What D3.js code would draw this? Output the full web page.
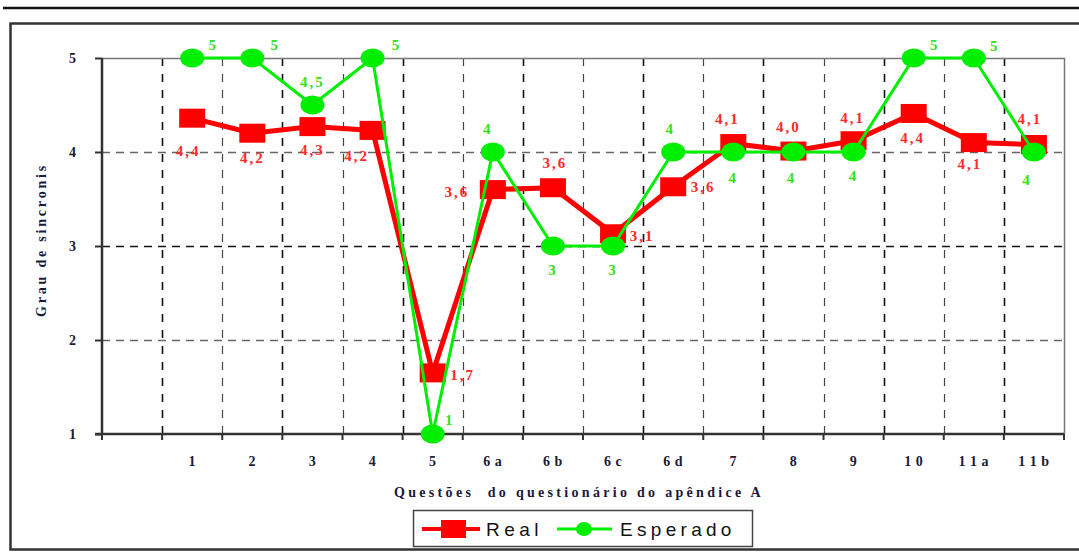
<!DOCTYPE html>
<html><head><meta charset="utf-8">
<script src="https://cdn.jsdelivr.net/npm/d3@7/dist/d3.min.js"></script>
<style>
html,body{margin:0;padding:0;background:#fff;}
svg{display:block;}
</style></head>
<body>
<svg id="chart" width="1079" height="552"></svg>
<script>
// ---- data ----
const categories = ["", "1", "2", "3", "4", "5", "6a", "6b", "6c", "6d", "7", "8", "9", "10", "11a", "11b"];
const tickLabels = ["", "1", "2", "3", "4", "5", "6 a", "6 b", "6 c", "6 d", "7", "8", "9", "1 0", "1 1 a", "1 1 b"];
const questions = ["1", "2", "3", "4", "5", "6a", "6b", "6c", "6d", "7", "8", "9", "10", "11a", "11b"];
const realValues = [4.36, 4.2, 4.27, 4.23, 1.65, 3.6, 3.62, 3.13, 3.63, 4.09, 4.01, 4.12, 4.41, 4.1, 4.08];
const realLabels = ["4,4", "4,2", "4,3", "4,2", "1,7", "3,6", "3,6", "3,1", "3,6", "4,1", "4,0", "4,1", "4,4", "4,1", "4,1"];
const expectedValues = [5, 5, 4.5, 5, 1, 4, 3, 3, 4, 4, 4, 4, 5, 5, 4];
const expectedLabels = ["5", "5", "4,5", "5", "1", "4", "3", "3", "4", "4", "4", "4", "5", "5", "4"];
const yTicks = [1, 2, 3, 4, 5];
const seriesNames = ["Real", "Esperado"];
const yTitle = "Grau de sincronis";
const xTitle = "Questões  do questionário do apêndice A";

// ---- layout (label offsets relative to markers) ----
const realOff = [[-4,33],[0,25],[0,23],[-16,25],[30,2],[-36,2],[2,-25],[29,2],[30,0],[-6,-25],[-5,-24],[-1,-23],[-1,24],[-4,21],[-4,-26]];
const expOff = [[21,-13],[23,-13],[0,-23],[24,-13],[17,-14],[-5,-23],[0,24],[0,24],[-3,-23],[0,26],[-2,26],[0,24],[21,-13],[21,-12],[-7,28]];

const svg = d3.select("#chart");
const L = 102, R = 1064, T = 58, B = 434;
const x = d3.scaleBand().domain(categories).range([L, R]).padding(0);
const y = d3.scaleLinear().domain([1, 5]).range([B, T]);
const cx = d => x(d) + x.bandwidth() / 2;

// top rule and frame
svg.append("line").attr("x1", 3).attr("x2", 1079).attr("y1", 8).attr("y2", 8)
  .attr("stroke", "#111").attr("stroke-width", 2.5);
svg.append("rect").attr("x", 10.5).attr("y", 23.5).attr("width", 1085).attr("height", 526)
  .attr("fill", "none").attr("stroke", "#333").attr("stroke-width", 2.5);

// horizontal grid
const hg = svg.append("g");
hg.selectAll("line").data([2, 3, 4]).join("line")
  .attr("x1", L).attr("x2", R).attr("y1", d => Math.round(y(d)) + 0.5).attr("y2", d => Math.round(y(d)) + 0.5)
  .attr("stroke", d => d === 3 ? "#111" : "#666").attr("stroke-width", d => d === 3 ? 1.6 : 1.4)
  .attr("stroke-dasharray", "8,6");

// vertical grid at band boundaries
const vb = categories.slice(1).map(c => x(c));
svg.append("g").selectAll("line").data(vb).join("line")
  .attr("x1", d => Math.round(d) + 0.5).attr("x2", d => Math.round(d) + 0.5)
  .attr("y1", T).attr("y2", B)
  .attr("stroke", (d, i) => i % 2 === 0 ? "#111" : "#444").attr("stroke-width", (d, i) => i % 2 === 0 ? 1.6 : 1.2)
  .attr("stroke-dasharray", "8,8");

// plot border top & right
svg.append("path").attr("d", `M${L},${T + 0.5}H${R + 0.5}V${B}`)
  .attr("fill", "none").attr("stroke", "#777").attr("stroke-width", 1.5);

// axes
const yAxis = svg.append("g").attr("transform", `translate(${L},0)`)
  .call(d3.axisLeft(y).tickValues(yTicks).tickSize(7).tickPadding(19).tickFormat(d3.format("d")));
yAxis.select(".domain").attr("stroke", "#333").attr("stroke-width", 2.5).attr("d", `M0,${T}V${B}`);
yAxis.selectAll(".tick line").attr("stroke", "#333").attr("stroke-width", 2);
yAxis.selectAll("text").attr("font-family", "Liberation Serif, serif").attr("font-weight", "bold")
  .attr("font-size", 14).attr("fill", "#1a1a3a");

const bounds = categories.map(c => x(c)).concat([R]);
const xAxis = svg.append("g").attr("transform", `translate(0,${B})`);
xAxis.append("path").attr("d", `M${L - 7},0H${R}`).attr("stroke", "#333").attr("stroke-width", 2.5).attr("fill", "none");
xAxis.selectAll("line.t").data(bounds).join("line").attr("class", "t")
  .attr("x1", d => d).attr("x2", d => d).attr("y1", 0).attr("y2", 6)
  .attr("stroke", "#333").attr("stroke-width", 2);
xAxis.selectAll("text").data(categories).join("text")
  .attr("x", d => cx(d)).attr("y", 32).attr("text-anchor", "middle")
  .attr("font-family", "Liberation Serif, serif").attr("font-weight", "bold").attr("font-size", 14)
  .attr("fill", "#1a1a3a").attr("letter-spacing", 0.5)
  .text((d, i) => tickLabels[i]);

// axis titles
svg.append("text").attr("transform", `translate(46,240) rotate(-90)`).attr("text-anchor", "middle")
  .attr("font-family", "Liberation Serif, serif").attr("font-weight", "bold").attr("font-size", 14)
  .attr("fill", "#1a1a3a").attr("letter-spacing", 2.8).text(yTitle);
svg.append("text").attr("x", 579).attr("y", 497).attr("text-anchor", "middle")
  .attr("font-family", "Liberation Serif, serif").attr("font-weight", "bold").attr("font-size", 14)
  .attr("fill", "#1a1a3a").attr("letter-spacing", 3.3).style("white-space", "pre").text(xTitle);

// lines
const line = (vals) => d3.line().x((d, i) => cx(questions[i])).y(d => y(d))(vals);
svg.append("path").attr("d", line(realValues)).attr("fill", "none").attr("stroke", "#ff0000")
  .attr("stroke-width", 5).attr("stroke-linejoin", "miter");
svg.append("g").selectAll("rect").data(realValues).join("rect")
  .attr("x", (d, i) => cx(questions[i]) - 13).attr("y", d => y(d) - 9.5)
  .attr("width", 26).attr("height", 19).attr("fill", "#ff0000");

svg.append("path").attr("d", line(expectedValues)).attr("fill", "none").attr("stroke", "#00ee00")
  .attr("stroke-width", 3);
svg.append("g").selectAll("ellipse").data(expectedValues).join("ellipse")
  .attr("cx", (d, i) => cx(questions[i])).attr("cy", d => y(d)).attr("rx", 12).attr("ry", 9.5)
  .attr("fill", "#00ee00");

// data labels
svg.append("g").selectAll("text").data(realValues).join("text")
  .attr("x", (d, i) => cx(questions[i]) + realOff[i][0]).attr("y", (d, i) => y(d) + realOff[i][1])
  .attr("dy", "0.35em").attr("text-anchor", "middle")
  .attr("font-family", "Liberation Serif, serif").attr("font-weight", "bold").attr("font-size", 15)
  .attr("letter-spacing", 2).attr("fill", "#ff2a2a").text((d, i) => realLabels[i]);
svg.append("g").selectAll("text").data(expectedValues).join("text")
  .attr("x", (d, i) => cx(questions[i]) + expOff[i][0]).attr("y", (d, i) => y(d) + expOff[i][1])
  .attr("dy", "0.35em").attr("text-anchor", "middle")
  .attr("font-family", "Liberation Serif, serif").attr("font-weight", "bold").attr("font-size", 15)
  .attr("letter-spacing", 2).attr("fill", "#33e01a").text((d, i) => expectedLabels[i]);

// legend
const lg = svg.append("g");
lg.append("rect").attr("x", 413.5).attr("y", 510.5).attr("width", 339).attr("height", 36)
  .attr("fill", "#fff").attr("stroke", "#444").attr("stroke-width", 1.5);
lg.append("line").attr("x1", 422).attr("x2", 480).attr("y1", 529).attr("y2", 529).attr("stroke", "#ff0000").attr("stroke-width", 4);
lg.append("rect").attr("x", 441).attr("y", 520).attr("width", 25).attr("height", 18).attr("fill", "#ff0000");
lg.append("text").attr("x", 486).attr("y", 536).attr("font-family", "Liberation Sans, Arial, sans-serif")
  .attr("font-size", 19).attr("letter-spacing", 4.5).attr("fill", "#111").text(seriesNames[0]);
lg.append("line").attr("x1", 557).attr("x2", 612).attr("y1", 529).attr("y2", 529).attr("stroke", "#00ee00").attr("stroke-width", 3);
lg.append("ellipse").attr("cx", 584).attr("cy", 529).attr("rx", 8).attr("ry", 7).attr("fill", "#00ee00");
lg.append("text").attr("x", 620).attr("y", 536).attr("font-family", "Liberation Sans, Arial, sans-serif")
  .attr("font-size", 19).attr("letter-spacing", 4.3).attr("fill", "#111").text(seriesNames[1]);
</script>
</body></html>
